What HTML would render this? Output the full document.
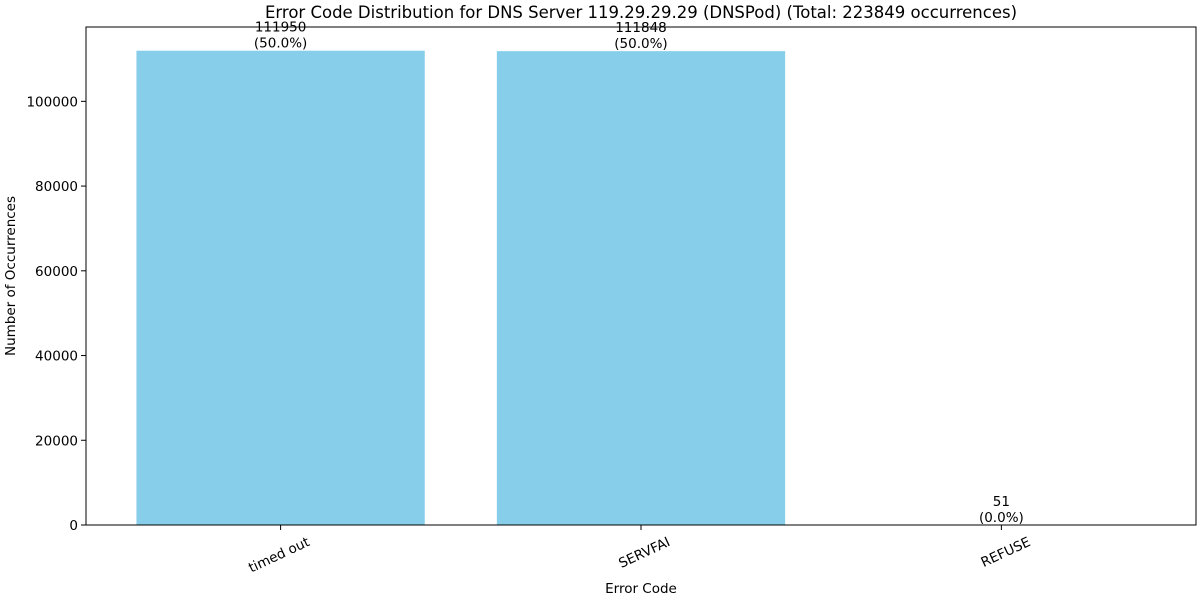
<!DOCTYPE html>
<html><head><meta charset="utf-8"><style>
body{margin:0;background:#fff;}
svg{font-family:"DejaVu Sans","Liberation Sans",sans-serif;}
</style></head><body>
<svg id="chart" width="1200" height="600">
<rect width="1200" height="600" fill="#fff"/>
<text x="641" y="18" font-size="16.5" text-anchor="middle">Error Code Distribution for DNS Server 119.29.29.29 (DNSPod) (Total: 223849 occurrences)</text>
<g id="bars"></g>
<g id="yaxis"></g>
<g id="xaxis"></g>
<rect x="86" y="27" width="1110" height="498" fill="none" stroke="#000" stroke-width="1"/>
<text x="641" y="593" font-size="13.5" text-anchor="middle">Error Code</text>
<text transform="translate(15,276) rotate(-90)" font-size="13.5" text-anchor="middle">Number of Occurrences</text>
</svg>
<script>
const categories = ["timed out", "SERVFAI", "REFUSE"];
const counts = [111950, 111848, 51];
const yTicks = [0, 20000, 40000, 60000, 80000, 100000];
const total = 223849;

const NS = "http://www.w3.org/2000/svg";
const x0 = 86, x1 = 1196, yTop = 27, yBot = 525;
const yMax = Math.max(...counts) * 1.05;
const xScale = i => x0 + (i + 0.54) / (categories.length - 1 + 1.08) * (x1 - x0);
const yScale = v => yBot - v / yMax * (yBot - yTop);
const unit = (x1 - x0) / (categories.length - 1 + 1.08);
function mk(tag, attrs, parent, txt) {
  const e = document.createElementNS(NS, tag);
  for (const k in attrs) e.setAttribute(k, attrs[k]);
  if (txt !== undefined) e.textContent = txt;
  parent.appendChild(e);
  return e;
}
const bars = document.getElementById('bars');
const xa = document.getElementById('xaxis');
const ya = document.getElementById('yaxis');
categories.forEach((c, i) => {
  const cx = xScale(i), w = unit * 0.8, y = yScale(counts[i]);
  const r = mk('rect', {x: cx - w / 2, y: y, width: w, height: yBot - y, fill: '#87ceeb'}, bars);
  
  
  const pct = (counts[i] / total * 100).toFixed(1);
  const t1 = mk('text', {x: cx, y: y - 19, 'font-size': 13.5, 'text-anchor': 'middle'}, bars, String(counts[i]));
  
  
  const t2 = mk('text', {x: cx, y: y - 3, 'font-size': 13.5, 'text-anchor': 'middle'}, bars, '(' + pct + '%)');
  
  
  mk('line', {x1: cx, x2: cx, y1: yBot, y2: yBot + 5, stroke: '#000'}, xa);
  const tl = mk('text', {x: 0, y: 0, 'font-size': 13.5, 'text-anchor': 'end', transform: 'translate(' + (cx + 30) + ',' + (yBot + 20) + ') rotate(-25)'}, xa, c);
  
  
});
yTicks.forEach(v => {
  const y = yScale(v);
  mk('line', {x1: x0 - 5, x2: x0, y1: y, y2: y, stroke: '#000'}, ya);
  const t = mk('text', {x: x0 - 8, y: y + 5, 'font-size': 13.5, 'text-anchor': 'end'}, ya, String(v));
  
  
});
</script>
</body></html>
